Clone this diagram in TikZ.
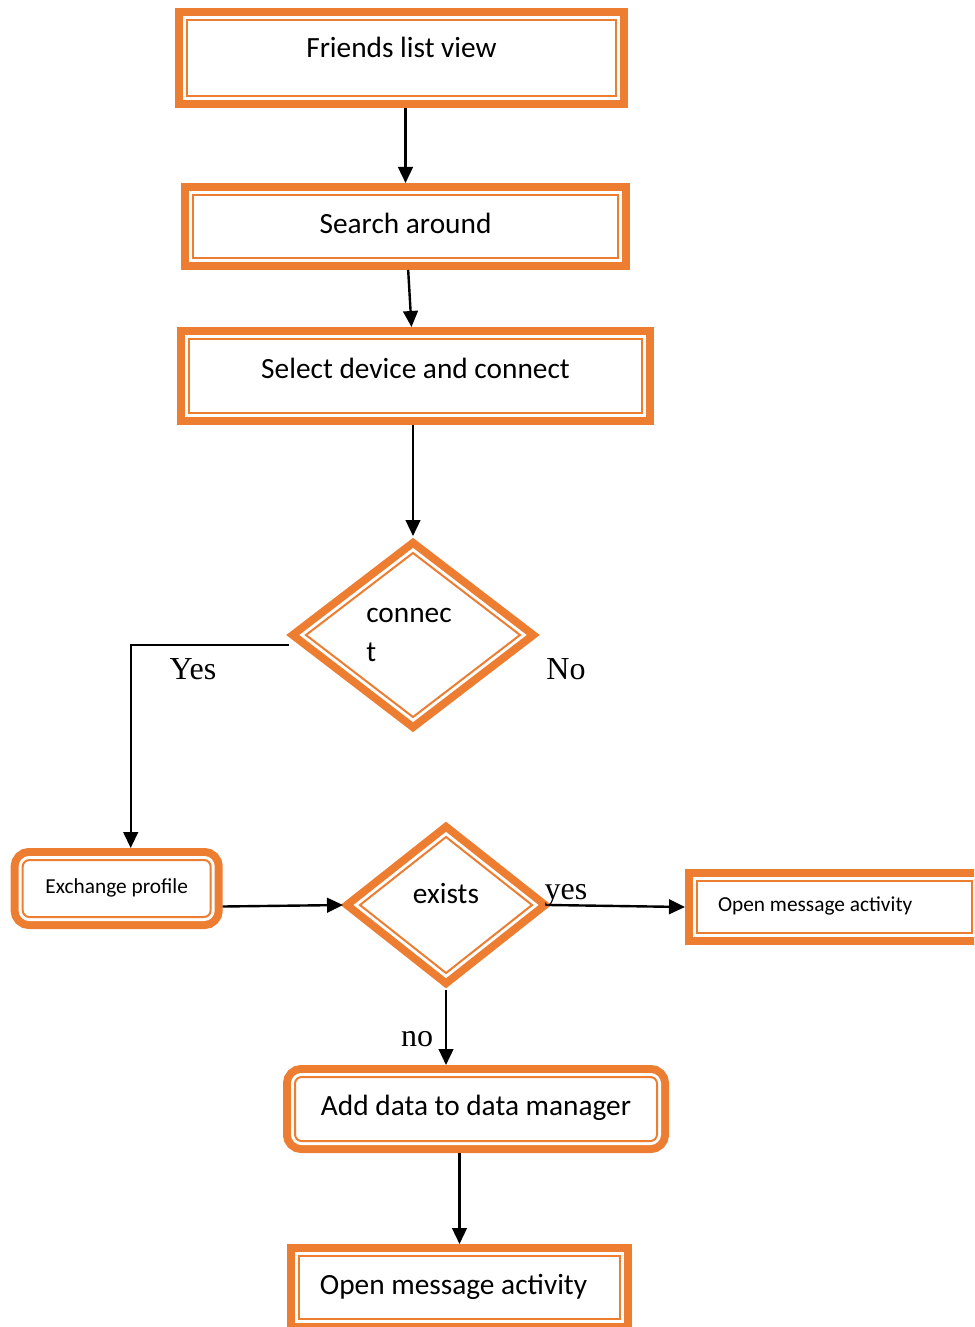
\documentclass[tikz,border=0pt]{standalone}
\usepackage{fontspec}
\setmainfont{Carlito}
\newfontfamily\labelfont{Liberation Serif}
\usetikzlibrary{shapes.geometric,arrows.meta}
\definecolor{boxorange}{RGB}{237,125,49}

\tikzset{
  framed/.style={draw=boxorange, line width=1.5pt, fill=white, outer sep=9pt, inner sep=0pt,
    preaction={draw=boxorange, line width=18pt},
    preaction={draw=white, line width=6pt}},
  stepbox/.style={framed, rectangle},
  roundbox/.style={framed, rectangle, rounded corners=5pt},
  decision/.style={framed, diamond, align=left, font=\fontsize{22}{29}\selectfont},
  bigtext/.style={font=\fontsize{22}{26}\selectfont, text height=16pt, text depth=6pt},
  smalltext/.style={font=\fontsize{16}{19}\selectfont, text height=12pt, text depth=5pt},
  lbl/.style={font=\labelfont\fontsize{24}{28}\selectfont, inner sep=0pt, text height=16pt, text depth=0pt},
  arr/.style={-{Triangle[length=12pt,width=11pt]}, line width=1.8pt}
}

\begin{document}
\begin{tikzpicture}[x=0.75pt,y=-0.75pt]
    \clip (0,0) rectangle (974,1327);

    %Shape: Boxes
    \node[stepbox, bigtext, minimum width=321.75pt, minimum height=57pt, text depth=17pt] (fl) at (401.5,58) {Friends list view};
    \node[stepbox, bigtext, minimum width=318.75pt, minimum height=47.25pt] (sa) at (405.5,226.5) {Search around};
    \node[stepbox, bigtext, minimum width=339.75pt, minimum height=55.5pt, text depth=13pt] (sl) at (415.5,376) {Select device and connect};
    \node[roundbox, smalltext, minimum width=141pt, minimum height=42.75pt] (ep) at (116.7,888.5) {Exchange profile};
    \node[stepbox, smalltext, minimum width=206.25pt, minimum height=39pt] (om) at (834.5,907) {\makebox[174.75pt][l]{Open message activity}};
    \node[roundbox, bigtext, minimum width=271.5pt, minimum height=48pt] (ad) at (476,1109) {Add data to data manager};
    \node[stepbox, bigtext, minimum width=240.75pt, minimum height=47.25pt] (om2) at (459.5,1287.5) {\kern-9pt Open message activity};

    %Shape: Diamonds
    \node[decision, minimum width=168pt, minimum height=130.5pt] (cn) at (413,635) {\kern-6pt connec\\\kern-6pt t};
    \node[decision, minimum width=136.5pt, minimum height=109.5pt, text height=16pt, text depth=19pt] (ex) at (446,905) {exists};

    %Straight Lines
    \draw[arr] (sa.north |- fl.south) -- (sa.north);
    \draw[arr] ([xshift=2pt]sa.south) -- ([xshift=-3pt]sl.north);
    \draw[arr] (cn.north |- sl.south) -- (cn.north);
    \draw[arr] ([yshift=-7.5pt]cn.west) -| ([xshift=10.5pt]ep.north);
    \draw[arr] ([yshift=-13.5pt]ep.east) -- (ex.west);
    \draw[arr] (ex.east) -- (om.west);
    \draw[arr] (ex.south) -- (ex.south |- ad.north);
    \draw[arr] (om2.north |- ad.south) -- (om2.north);

    % Text Node
    \node[lbl] (yes1) at (193,669) {Yes};
    % Text Node
    \node[lbl] (no1) at (566,669) {No};
    % Text Node
    \node[lbl] (yes2) at (566,889) {yes};
    % Text Node
    \node[lbl] (no2) at (417,1036) {no};
\end{tikzpicture}
\end{document}
